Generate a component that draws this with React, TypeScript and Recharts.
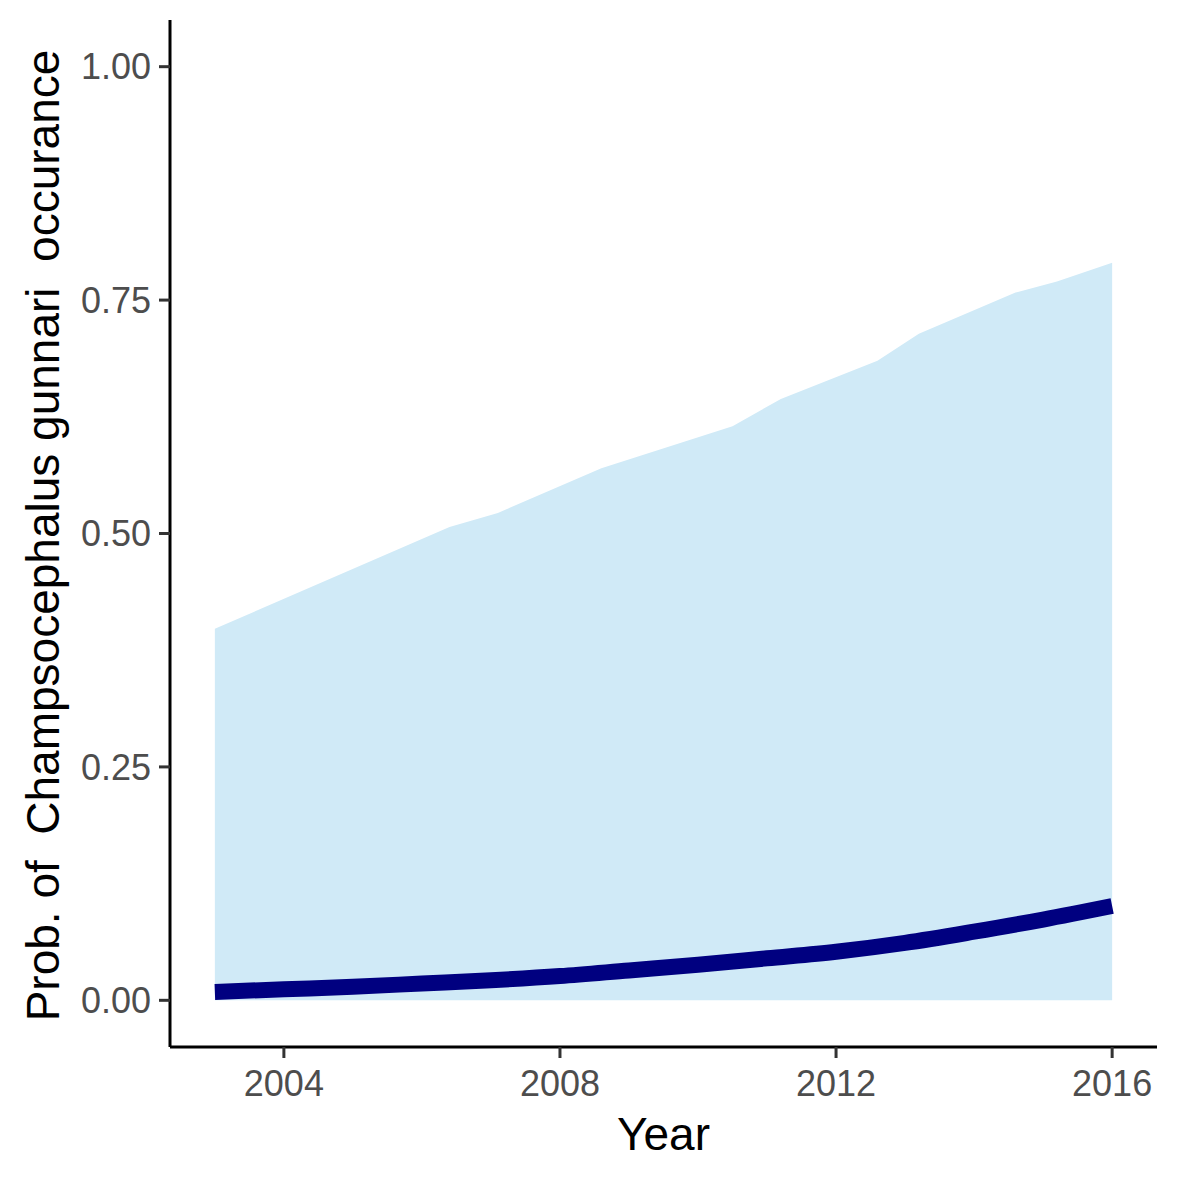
import { Area, ComposedChart, Line, XAxis, YAxis } from "recharts";

// ribbon (upper bound, lower bound is 0) read at the visible kinks of its edge
const bandYears = [2003.0, 2006.4, 2007.1, 2008.6, 2010.5, 2011.2, 2012.6, 2013.2, 2014.6, 2015.2, 2016.0];
const bandUpper = [0.398, 0.507, 0.522, 0.57, 0.615, 0.644, 0.685, 0.714, 0.758, 0.77, 0.79];
const bandLower = [0, 0, 0, 0, 0, 0, 0, 0, 0, 0, 0];

// fitted probability, one value per year
const meanYears = [2003, 2004, 2005, 2006, 2007, 2008, 2009, 2010, 2011, 2012, 2013, 2014, 2015, 2016];
const meanValues = [0.009, 0.0118, 0.0145, 0.018, 0.0215, 0.026, 0.032, 0.038, 0.045, 0.052, 0.0615, 0.0735, 0.0865, 0.101];

const xTicks = [2004, 2008, 2012, 2016];
const yTicks = [0, 0.25, 0.5, 0.75, 1];

const bandData = bandYears.map((year, i) => ({ year, range: [bandLower[i], bandUpper[i]] }));
const meanData = meanYears.map((year, i) => ({ year, mean: meanValues[i] }));

const FONT = "'Liberation Sans', Arial, sans-serif";

function YTitle({ viewBox }: { viewBox?: { x: number; y: number; width: number; height: number } }) {
  if (!viewBox) return null;
  const cy = viewBox.y + viewBox.height / 2 + 2;
  return (
    <text
      x={59}
      y={cy}
      transform={`rotate(-90, 59, ${cy})`}
      textAnchor="middle"
      fontSize={46}
      fontFamily={FONT}
      fill="#000"
      style={{ whiteSpace: "pre" }}
    >
      {"Prob. of  Champsocephalus gunnari  occurance"}
    </text>
  );
}

export default function App() {
  return (
    <div style={{ position: "absolute", left: 0, top: 0, background: "#fff" }}>
      <ComposedChart width={1181} height={1181} margin={{ top: 20, right: 24, bottom: 0, left: 0 }}>
        <XAxis
          type="number"
          dataKey="year"
          domain={[2002.35, 2016.65]}
          ticks={xTicks}
          allowDataOverflow
          height={134}
          stroke="#000"
          strokeWidth={3}
          tickSize={11}
          tickLine={{ stroke: "#333", strokeWidth: 3 }}
          tick={{ fill: "#4d4d4d", fontSize: 36, fontFamily: FONT, dy: 10 }}
          label={{ value: "Year", position: "insideBottom", offset: 31, fontSize: 46, fontFamily: FONT, fill: "#000" }}
        />
        <YAxis
          type="number"
          domain={[-0.05, 1.05]}
          ticks={yTicks}
          allowDataOverflow
          width={170}
          stroke="#000"
          strokeWidth={3}
          tickSize={11}
          tickLine={{ stroke: "#333", strokeWidth: 3 }}
          tickFormatter={(v: number) => v.toFixed(2)}
          tick={{ fill: "#4d4d4d", fontSize: 36, fontFamily: FONT, dx: -6 }}
          label={<YTitle />}
        />
        <Area
          data={bandData}
          dataKey="range"
          type="linear"
          stroke="none"
          fill="#d0eaf7"
          fillOpacity={1}
          isAnimationActive={false}
        />
        <Line
          data={meanData}
          dataKey="mean"
          type="monotone"
          stroke="#000080"
          strokeWidth={16}
          strokeLinecap="butt"
          dot={false}
          isAnimationActive={false}
        />
      </ComposedChart>
    </div>
  );
}
